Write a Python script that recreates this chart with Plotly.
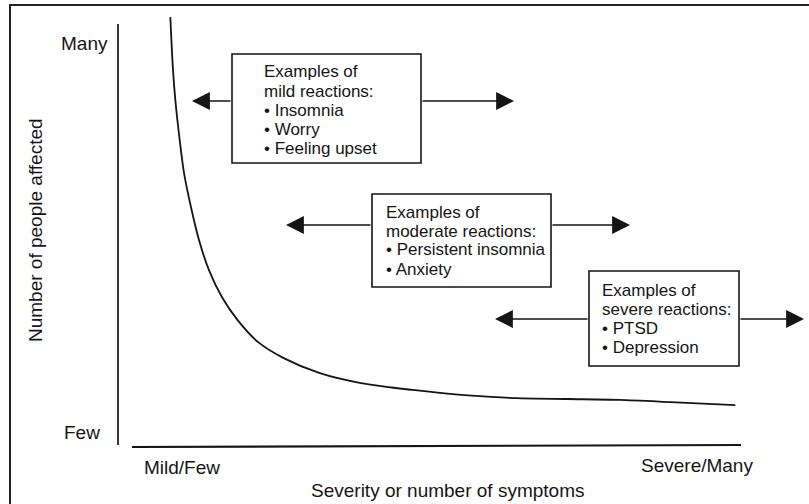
import plotly.graph_objects as go

# ---- data (conceptual units: severity 0-10, people affected 0-100) ----
severity = [0.84, 0.88, 0.92, 0.99, 1.06, 1.17, 1.30, 1.46, 1.67, 1.92, 2.25,
            2.66, 3.24, 3.90, 4.73, 5.56, 6.39, 7.22, 8.05, 8.87, 9.91]
people = [99.5, 87.9, 80.3, 71.0, 63.3, 55.5, 47.8, 40.8, 34.5, 29.2, 24.1,
          20.4, 16.9, 14.6, 13.0, 11.8, 11.1, 10.9, 10.7, 10.2, 9.5]

x_labels = ["Mild/Few", "Severe/Many"]
y_labels = ["Many", "Few"]
x_title = "Severity or number of symptoms"
y_title = "Number of people affected"

mild_lines = ["Examples of", "mild reactions:", "• Insomnia", "• Worry", "• Feeling upset"]
moderate_lines = ["Examples of", "moderate reactions:", "• Persistent insomnia", "• Anxiety"]
severe_lines = ["Examples of", "severe reactions:", "• PTSD", "• Depression"]

# ---- layout geometry (pixels) ----
W, H = 809, 504
L, R, T, B = 118, 68, 15, 58
PW = W - L - R
PH = H - T - B


def fx(px):
    return (px - L) / PW


def fy(py):
    return (H - B - py) / PH


FONT = "Liberation Sans, Arial, Helvetica, sans-serif"
INK = "#151515"

fig = go.Figure()
fig.add_trace(go.Scatter(
    x=severity, y=people, mode="lines",
    line=dict(color=INK, width=1.8, shape="spline", smoothing=0.8),
    hoverinfo="skip", showlegend=False,
))

shapes = []
# outer frame
shapes.append(dict(type="rect", xref="paper", yref="paper",
                   x0=fx(10), x1=fx(840), y0=fy(5), y1=fy(540),
                   line=dict(color="#222", width=2), fillcolor="rgba(0,0,0,0)"))
# axes lines
shapes.append(dict(type="line", xref="paper", yref="paper",
                   x0=fx(118), x1=fx(118), y0=fy(445), y1=fy(24),
                   line=dict(color=INK, width=1.7)))
shapes.append(dict(type="line", xref="paper", yref="paper",
                   x0=fx(132), x1=fx(741), y0=fy(447), y1=fy(445),
                   line=dict(color=INK, width=2.2)))

annotations = []

boxes = [
    # (lines, left, right, top, bottom, text_left, first_line_y, arrow_y, left_tip, right_tip)
    (mild_lines, 232, 421, 54, 163, 262, 72, 101, 192, 514),
    (moderate_lines, 372, 551, 194, 287, 384, 212, 225, 286, 630),
    (severe_lines, 589, 739, 271, 366, 600, 290, 319, 495, 804),
]
LINE_GAP = 19
for lines, bl, br, bt, bb, tl, ly0, ay, ltip, rtip in boxes:
    shapes.append(dict(type="rect", xref="paper", yref="paper",
                       x0=fx(bl), x1=fx(br), y0=fy(bb), y1=fy(bt),
                       line=dict(color=INK, width=1.6), fillcolor="white"))
    for i, t in enumerate(lines):
        annotations.append(dict(xref="paper", yref="paper", x=fx(tl), y=fy(ly0 + i * LINE_GAP),
                                text=t, showarrow=False, xanchor="left", yanchor="middle",
                                font=dict(family=FONT, size=17, color=INK)))
    # double arrows out of the box sides
    for tip, base in ((ltip, bl), (rtip, br)):
        annotations.append(dict(xref="paper", yref="paper", x=fx(tip), y=fy(ay),
                                ax=base - tip, ay=0, text="", showarrow=True,
                                arrowhead=2, arrowsize=2.1, arrowwidth=1.7, arrowcolor=INK,
                                standoff=0, startstandoff=0))

lab_font = dict(family=FONT, size=19, color=INK)
annotations += [
    dict(xref="paper", yref="paper", x=fx(110), y=fy(43), text=y_labels[0],
         showarrow=False, xanchor="right", yanchor="middle", font=lab_font),
    dict(xref="paper", yref="paper", x=fx(102), y=fy(432), text=y_labels[1],
         showarrow=False, xanchor="right", yanchor="middle", font=lab_font),
    dict(xref="paper", yref="paper", x=fx(142), y=fy(467), text=x_labels[0],
         showarrow=False, xanchor="left", yanchor="middle", font=lab_font),
    dict(xref="paper", yref="paper", x=fx(755), y=fy(465), text=x_labels[1],
         showarrow=False, xanchor="right", yanchor="middle", font=lab_font),
    dict(xref="paper", yref="paper", x=fx(447), y=fy(490), text=x_title,
         showarrow=False, xanchor="center", yanchor="middle", font=lab_font),
    dict(xref="paper", yref="paper", x=fx(35), y=fy(230), text=y_title, textangle=-90,
         showarrow=False, xanchor="center", yanchor="middle", font=lab_font),
]

fig.update_layout(
    width=W, height=H,
    margin=dict(l=L, r=R, t=T, b=B, pad=0),
    paper_bgcolor="white", plot_bgcolor="white",
    xaxis=dict(range=[0, 10], visible=False, fixedrange=True),
    yaxis=dict(range=[0, 100], visible=False, fixedrange=True),
    shapes=shapes, annotations=annotations, showlegend=False,
)

fig.write_html(
    "out.html",
    config={"displayModeBar": False},
    post_script="document.body.style.margin='0';document.body.style.overflow='hidden';",
)
